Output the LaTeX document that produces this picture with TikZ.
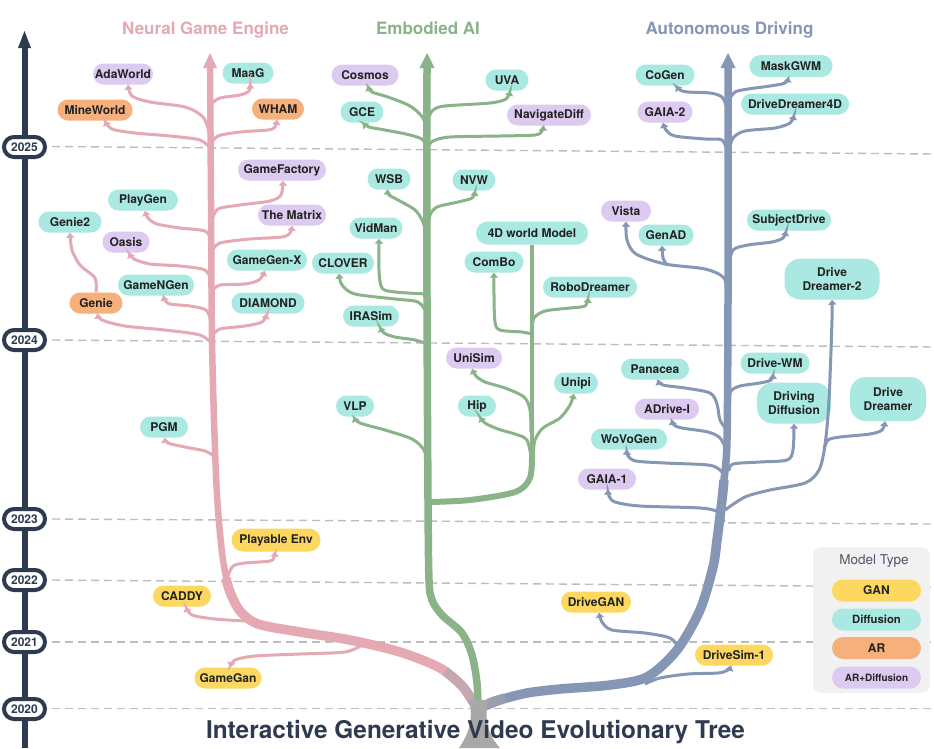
\documentclass[tikz,border=0pt]{standalone}
\usepackage{fontspec}
\setmainfont{TeX Gyre Heros}
\usetikzlibrary{arrows.meta,shapes.misc}
\definecolor{pinkc}{HTML}{E4A9B3}
\definecolor{greenc}{HTML}{8AB38A}
\definecolor{bluec}{HTML}{8597B4}
\definecolor{navyc}{HTML}{2E3A4F}
\definecolor{ganc}{HTML}{FDD860}
\definecolor{difc}{HTML}{A9E9E1}
\definecolor{arcol}{HTML}{F5B07C}
\definecolor{ardc}{HTML}{DDCAF1}
\definecolor{dashc}{HTML}{BDBDBD}
\definecolor{basec}{HTML}{A8A8A8}
\definecolor{legc}{HTML}{F1F1F1}
\definecolor{txtc}{HTML}{222222}
\begin{document}
\begin{tikzpicture}[x=1pt,y=-1pt,
  nd/.style={rounded rectangle, minimum height=21pt, inner sep=0pt, text=txtc, font=\bfseries\fontsize{12}{14.7}\selectfont},
  gan/.style={nd, fill=ganc}, dif/.style={nd, fill=difc}, arm/.style={nd, fill=arcol}, ard/.style={nd, fill=ardc},
  big/.style={rectangle, rounded corners=16pt, minimum height=41pt, align=center},
  yr/.style={rounded rectangle, draw=navyc, line width=4pt, fill=white, minimum width=41pt, minimum height=20pt, inner sep=0pt, font=\bfseries\fontsize{12}{14}\selectfont, text=navyc},
  yline/.style={dashc, line width=1.4pt, dash pattern=on 8pt off 5pt},
  tip/.style={-{Triangle[length=5pt,width=8pt]}},
  pbr/.style={pinkc, line width=3pt, tip},
  gbr/.style={greenc, line width=3pt, tip},
  bbr/.style={bluec, line width=3pt, tip},
  cat/.style={anchor=base, font=\bfseries\fontsize{17}{20}\selectfont},
  lg/.style={nd, minimum width=89pt, minimum height=22pt}
]
\useasboundingbox (0,0) rectangle (934,748);
\fill[white] (0,0) rectangle (934,748);

% year dashed lines
\draw[yline] (52,146.5) -- (934,154);
\draw[yline] (52,340) -- (934,347);
\draw[yline] (52,519) -- (934,524);
\draw[yline] (52,580) -- (934,587);
\draw[yline] (52,642) -- (934,642);
\draw[yline] (52,708.5) -- (934,708.5);

% time axis
\draw[navyc, line width=6pt] (24.5,46) -- (24.5,748);
\fill[navyc] (24.5,31) -- (31,48) -- (18,48) -- cycle;
\node[yr] (y2025) at (24.5,147) {2025};
\node[yr] (y2024) at (24.5,340) {2024};
\node[yr] (y2023) at (24.5,519) {2023};
\node[yr] (y2022) at (24.5,580) {2022};
\node[yr] (y2021) at (24.5,642) {2021};
\node[yr] (y2020) at (24.5,709) {2020};

% category titles
\node[cat, text=pinkc] (catA) at (205.5,34) {Neural Game Engine};
\node[cat, text=greenc] (catB) at (428,34) {Embodied AI};
\node[cat, text=bluec] (catC) at (729.5,34) {Autonomous Driving};

% ---------- trunks ----------
\draw[pinkc, line width=6.5pt] plot[smooth, tension=0.5] coordinates {(210,66) (211,200) (212,340) (215,450) (218,510) (223,560) (230,592) (240,611) (258,624) (300,632) (350,640) (400,652) (440,668) (463,687) (478,710)};
\draw[pinkc, line width=9.5pt] plot[smooth, tension=0.5] coordinates {(226,578) (230,592) (240,611) (258,624) (300,632) (350,640) (400,652) (440,668) (463,687) (478,710)};
\draw[pinkc!45!basec, line width=9.5pt] plot[smooth, tension=0.5] coordinates {(445,671) (463,687) (478,710)};
\fill[pinkc] (210,53) -- (217,68) -- (203,68) -- cycle;

\draw[greenc, line width=7.5pt] plot[smooth, tension=0.5] coordinates {(427,66) (427,300) (428,500) (429,580) (432,600) (442,615) (462,633) (472,655) (477,683) (478,712)};
\fill[greenc] (427,53) -- (434.5,68) -- (419.5,68) -- cycle;

\draw[bluec, line width=7.5pt] plot[smooth, tension=0.5] coordinates {(728,66) (728,300) (727,440) (724,480) (722,500) (717,540)};
\draw[bluec, line width=9.5pt] plot[smooth, tension=0.5] coordinates {(724,480) (722,500) (717,540) (713,567) (700,610) (677,650) (647,677) (610,685) (560,689) (527,693) (500,700) (480,708)};
\draw[bluec!45!basec, line width=9.5pt] plot[smooth, tension=0.5] coordinates {(505,698) (492,702) (480,708)};
\fill[bluec] (728,53) -- (735.5,68) -- (720.5,68) -- cycle;

% base
\fill[basec] (469,700) .. controls (474,720) and (468,735) .. (459,748) -- (500,748) .. controls (488,735) and (484,720) .. (488,700) -- cycle;

% ---------- nodes: Neural Game Engine ----------
\node[ard, minimum width=60pt] (AdaWorld) at (123,74) {AdaWorld};
\node[dif, minimum width=51pt] (MaaG) at (248,73) {MaaG};
\node[arm, minimum width=75pt] (MineWorld) at (95,110) {MineWorld};
\node[arm, minimum width=52pt] (WHAM) at (278,109) {WHAM};
\node[ard, minimum width=88pt] (GameFactory) at (282,170) {GameFactory};
\node[dif, minimum width=70pt] (PlayGen) at (143,200) {PlayGen};
\node[ard, minimum width=68pt] (TheMatrix) at (292,215) {The Matrix};
\node[dif, minimum width=63pt] (Genie2) at (70,222) {Genie2};
\node[ard, minimum width=47pt] (Oasis) at (126,242) {Oasis};
\node[dif, minimum width=80pt] (GameGenX) at (267,260) {GameGen-X};
\node[dif, minimum width=76pt] (GameNGen) at (156,285) {GameNGen};
\node[arm, minimum width=53pt] (Genie) at (96,303) {Genie};
\node[dif, minimum width=73pt] (DIAMOND) at (268,303) {DIAMOND};
\node[dif, minimum width=48pt] (PGM) at (164,427) {PGM};
\node[gan, minimum width=89pt, minimum height=23pt] (PlayableEnv) at (276,540) {Playable Env};
\node[gan, minimum width=58pt] (CADDY) at (182,596) {CADDY};
\node[gan, minimum width=67pt] (GameGan) at (228,678) {GameGan};

% ---------- nodes: Embodied AI ----------
\node[ard, minimum width=67pt] (Cosmos) at (365,75) {Cosmos};
\node[dif, minimum width=43pt] (UVA) at (507,80) {UVA};
\node[dif, minimum width=43pt] (GCE) at (362,112) {GCE};
\node[ard, minimum width=84pt] (NavigateDiff) at (549,115) {NavigateDiff};
\node[dif, minimum width=43pt] (WSB) at (389,179) {WSB};
\node[dif, minimum width=43pt] (NVW) at (474,180) {NVW};
\node[dif, minimum width=53pt] (VidMan) at (376,228) {VidMan};
\node[dif, minimum width=112pt, minimum height=23pt] (FourD) at (532,233) {4D world Model};
\node[dif, minimum width=62pt] (CLOVER) at (343,263) {CLOVER};
\node[dif, minimum width=59pt] (ComBo) at (494,262) {ComBo};
\node[dif, minimum width=94pt] (RoboDreamer) at (590,287) {RoboDreamer};
\node[dif, minimum width=56pt] (IRASim) at (371,316) {IRASim};
\node[ard, minimum width=56pt] (UniSim) at (474,358) {UniSim};
\node[dif, minimum width=44pt] (Unipi) at (576,383) {Unipi};
\node[dif, minimum width=38pt] (VLP) at (355,406) {VLP};
\node[dif, minimum width=38pt] (Hip) at (477,406) {Hip};

% ---------- nodes: Autonomous Driving ----------
\node[dif, minimum width=59pt] (CoGen) at (665,75) {CoGen};
\node[dif, minimum width=83pt, minimum height=22pt] (MaskGWM) at (791,66) {MaskGWM};
\node[ard, minimum width=55pt] (GAIA2) at (665,112) {GAIA-2};
\node[dif, minimum width=108pt] (DDFourD) at (795,104) {DriveDreamer4D};
\node[ard, minimum width=50pt] (Vista) at (626,211) {Vista};
\node[dif, minimum width=55pt] (GenAD) at (666,235) {GenAD};
\node[dif, minimum width=84pt] (SubjectDrive) at (789,220) {SubjectDrive};
\node[dif, big, minimum width=95pt] (DDTwo) at (832,279) {Drive\\Dreamer-2};
\node[dif, minimum width=68pt] (Panacea) at (655,369) {Panacea};
\node[dif, minimum width=69pt] (DriveWM) at (775,363) {Drive-WM};
\node[ard, minimum width=64pt] (ADriveI) at (667,409) {ADrive-I};
\node[dif, big, minimum width=74pt] (DrivDiff) at (794,403) {Driving\\Diffusion};
\node[dif, big, minimum width=76pt, minimum height=44pt] (DriveDreamer) at (888,399) {Drive\\Dreamer};
\node[dif, minimum width=76pt] (WoVoGen) at (629,439) {WoVoGen};
\node[ard, minimum width=58pt] (GAIAone) at (607,479) {GAIA-1};
\node[gan, minimum width=70pt] (DriveGAN) at (596,602) {DriveGAN};
\node[gan, minimum width=78pt] (DriveSim) at (734,655) {DriveSim-1};

% ---------- branch roots ----------
\coordinate (pAda) at (210,135);
\coordinate (pMine) at (211,149);
\coordinate (pMaaG) at (211,104);
\coordinate (pWHAM) at (211,144);
\coordinate (pGF) at (212,220);
\coordinate (pPG) at (211,240);
\coordinate (pTM) at (212,251);
\coordinate (pOa) at (211,281);
\coordinate (pGX) at (212,291);
\coordinate (pGN) at (211,321);
\coordinate (pDI) at (212,336);
\coordinate (pGe) at (212,344);
\coordinate (pPGM) at (214,456);
\coordinate (pPE) at (228,576);
\coordinate (pCA) at (246,621);
\coordinate (pGG) at (362,645);

\coordinate (gCos) at (427,135);
\coordinate (gGCE) at (427,151);
\coordinate (gUVA) at (428,119);
\coordinate (gND) at (428,147);
\coordinate (gWSB) at (427,238);
\coordinate (gNVW) at (428,226);
\coordinate (gVM) at (427,294);
\coordinate (gCL) at (427,313);
\coordinate (gIR) at (427,344);
\coordinate (gVLP) at (427,463);
\coordinate (gBase) at (430,502);
\coordinate (gTop) at (532,452);
\coordinate (gCB) at (532,334);
\coordinate (gRD) at (532,330);
\coordinate (gUS) at (531,432);
\coordinate (gHip) at (531,456);
\coordinate (gUp) at (533,456);

\coordinate (bCG) at (727,108);
\coordinate (bMG) at (729,100);
\coordinate (bG2) at (727,151);
\coordinate (bDD4) at (729,151);
\coordinate (bVi) at (727,296);
\coordinate (bGA) at (667,265);
\coordinate (bSD) at (729,266);
\coordinate (bPa) at (727,430);
\coordinate (bDW) at (729,401);
\coordinate (bAD) at (727,451);
\coordinate (bDD) at (729,471);
\coordinate (bWo) at (727,479);
\coordinate (bGone) at (724,522);
\coordinate (bDDTwo) at (725,510);
\coordinate (bDr) at (824,449);
\coordinate (bGAN) at (679,648);
\coordinate (bSim) at (645,684);

% ---------- pink branches ----------
\draw[pbr] plot[smooth] coordinates {(pAda) (203,117) (185,107) (150,102) (132,96) ([xshift=5pt]AdaWorld.south)};
\draw[pbr] plot[smooth] coordinates {(pMine) (200,140) (170,136) (135,133) (112,129) ([xshift=10pt]MineWorld.south)};
\draw[pbr] plot[smooth] coordinates {(pMaaG) (220,98) (240,95) (249,91) ([xshift=2pt]MaaG.south)};
\draw[pbr] plot[smooth] coordinates {(pWHAM) (218,136) (240,132) (268,130) (275,127) ([xshift=-1pt]WHAM.south)};
\draw[pbr] plot[smooth] coordinates {(pGF) (218,209) (240,205) (270,201) (281,195) ([xshift=1pt]GameFactory.south)};
\draw[pbr] plot[smooth] coordinates {(pPG) (205,231) (180,228) (157,224) (148,218) ([xshift=2pt]PlayGen.south)};
\draw[pbr] plot[smooth] coordinates {(pTM) (220,243) (250,239) (282,237) (290,233) (TheMatrix.south)};
\draw[pbr] plot[smooth] coordinates {(pOa) (205,270) (180,266) (150,264) (134,259) ([xshift=3pt]Oasis.south)};
\draw[pbr] plot[smooth] coordinates {(pGX) (220,285) (245,284) (259,280) ([xshift=-2pt]GameGenX.south)};
\draw[pbr] plot[smooth] coordinates {(pGN) (206,310) (190,306) (170,304) (165,300) ([xshift=7pt]GameNGen.south)};
\draw[pbr] plot[smooth] coordinates {(pDI) (220,329) (245,326) (262,322) ([xshift=-1pt]DIAMOND.south)};
\draw[pbr] plot[smooth] coordinates {(pGe) (200,335) (165,330) (125,326) (102,320) ([xshift=2pt]Genie.south)};
\draw[pbr] plot[smooth] coordinates {(Genie.north) (95,278) (80,265) (72,250) (Genie2.south)};
\draw[pbr] plot[smooth] coordinates {(pPGM) (205,451) (185,447) (168,443) ([xshift=1pt]PGM.south)};
\draw[pbr] plot[smooth] coordinates {(pPE) (233,566) (245,563) (270,561) (274,557) ([xshift=-1pt]PlayableEnv.south)};
\draw[pbr] plot[smooth] coordinates {(pCA) (215,619) (192,615) ([xshift=4pt]CADDY.south)};
\draw[pbr] plot[smooth] coordinates {(pGG) (345,652) (300,654) (255,656) (235,660) ([xshift=2pt]GameGan.north)};

% ---------- green branches ----------
\draw[gbr] plot[smooth] coordinates {(gCos) (423,118) (410,106) (388,97) (372,92) ([xshift=3pt]Cosmos.south)};
\draw[gbr] plot[smooth] coordinates {(gGCE) (423,140) (410,135) (385,130) (369,127) ([xshift=1pt]GCE.south)};
\draw[gbr] plot[smooth] coordinates {(gUVA) (433,110) (445,106) (490,103) (506,99) ([xshift=3pt]UVA.south)};
\draw[gbr] plot[smooth] coordinates {(gND) (433,141) (450,137) (500,136) (535,135) (542,131) ([xshift=-6pt]NavigateDiff.south)};
\draw[gbr] plot[smooth] coordinates {(gWSB) (423,222) (415,210) (398,200) (389,195) ([xshift=-1pt]WSB.south)};
\draw[gbr] plot[smooth] coordinates {(gNVW) (430,215) (437,207) (458,202) (472,198) ([xshift=1pt]NVW.south)};
\draw[gbr] plot[smooth] coordinates {(gVM) (395,292) (382,288) (379,270) ([xshift=3pt]VidMan.south)};
\draw[gbr] plot[smooth] coordinates {(gCL) (418,302) (395,299) (355,294) (342,285) ([xshift=-4pt]CLOVER.south)};
\draw[gbr] plot[smooth] coordinates {(gIR) (415,340) (395,337) (384,333) ([xshift=9pt]IRASim.south)};
\draw[gbr] plot[smooth] coordinates {(gVLP) (424,450) (412,439) (385,430) (360,423) ([xshift=-1pt]VLP.south)};
\draw[greenc, line width=3.5pt] (FourD.south) -- (gTop);
\draw[greenc, line width=6pt] plot[smooth] coordinates {(gBase) (470,500) (515,492) (530,478) (gTop)};
\draw[gbr] plot[smooth] coordinates {(gCB) (522,332) (500,330) (495,322) (494,295) (ComBo.south)};
\draw[gbr] plot[smooth] coordinates {(gRD) (534,318) (545,311) (570,308) (585,306) ([xshift=-2pt]RoboDreamer.south)};
\draw[gbr] plot[smooth] coordinates {(gUS) (530,410) (524,397) (505,388) (485,382) (476,376) ([xshift=-2pt]UniSim.south)};
\draw[gbr] plot[smooth] coordinates {(gHip) (527,440) (518,435) (498,429) (485,423) ([xshift=3pt]Hip.south)};
\draw[gbr] plot[smooth] coordinates {(gUp) (535,440) (543,428) (560,418) (570,405) ([xshift=-2pt]Unipi.south)};

% ---------- blue branches ----------
\draw[bbr] plot[smooth] coordinates {(bCG) (722,97) (710,93) (688,92) (680,90) ([xshift=11pt]CoGen.south)};
\draw[bbr] plot[smooth] coordinates {(bMG) (735,92) (748,89) (770,86) (785,83) ([xshift=-3pt]MaskGWM.south)};
\draw[bbr] plot[smooth] coordinates {(bG2) (722,140) (705,139) (675,136) (666,130) ([xshift=-2pt]GAIA2.south)};
\draw[bbr] plot[smooth] coordinates {(bDD4) (733,138) (745,131) (775,128) (790,123) ([xshift=-1pt]DDFourD.south)};
\draw[bbr] plot[smooth] coordinates {(bVi) (724,278) (705,269) (665,264) (636,254) (627,240) (Vista.south)};
\draw[bbr] plot[smooth] coordinates {(bGA) (663,258) ([xshift=-4pt]GenAD.south)};
\draw[bbr] plot[smooth] coordinates {(bSD) (733,250) (748,245) (772,242) (783,238) ([xshift=-3pt]SubjectDrive.south)};
\draw[bbr] plot[smooth] coordinates {(bPa) (720,420) (717,404) (710,393) (685,388) (663,385) ([xshift=3pt]Panacea.south)};
\draw[bbr] plot[smooth] coordinates {(bDW) (731,391) (740,386) (760,383) (771,380) ([xshift=-2pt]DriveWM.south)};
\draw[bbr] plot[smooth] coordinates {(bAD) (720,438) (708,432) (682,428) (674,425) ([xshift=5pt]ADriveI.south)};
\draw[bbr] plot[smooth] coordinates {(bDD) (733,464) (760,462) (787,460) (793,450) (DrivDiff.south)};
\draw[bbr] plot[smooth] coordinates {(bWo) (720,470) (708,465) (665,463) (636,461) (628,456) ([xshift=-2pt]WoVoGen.south)};
\draw[bbr] plot[smooth] coordinates {(bGone) (718,512) (700,508) (640,506) (615,502) (609,496) ([xshift=1pt]GAIAone.south)};
\draw[bbr] plot[smooth] coordinates {(bDDTwo) (745,497) (770,490) (805,483) (819,470) (825,445) (829,400) (832,320) (DDTwo.south)};
\draw[bbr] plot[smooth] coordinates {(bDr) (828,440) (840,437) (870,434) (882,430) ([xshift=-3pt]DriveDreamer.south)};
\draw[bbr] plot[smooth] coordinates {(bGAN) (670,638) (645,633) (612,630) (602,622) ([xshift=3pt]DriveGAN.south)};
\draw[bbr] plot[smooth] coordinates {(bSim) (660,678) (688,674) (718,673) (728,670) ([xshift=-3pt]DriveSim.south)};

% ---------- legend ----------
\fill[legc, rounded corners=9pt] (813,547) rectangle (930,693);
\node[font=\fontsize{13.5}{16}\selectfont, text=navyc!85!white] (legT) at (874,561) {Model Type};
\node[lg, fill=ganc] (lGAN) at (876.5,590.5) {GAN};
\node[lg, fill=difc, font=\bfseries\fontsize{11.3}{13}\selectfont] (lDif) at (876.5,619.5) {Diffusion};
\node[lg, fill=arcol] (lAR) at (876.5,648) {AR};
\node[lg, fill=ardc, font=\bfseries\fontsize{10}{12}\selectfont] (lARD) at (876.5,677.5) {AR+Diffusion};

% title
\node[anchor=base, font=\bfseries\fontsize{24.4}{28}\selectfont, text=navyc] (title) at (475.5,738) {Interactive Generative Video Evolutionary Tree};
\end{tikzpicture}
\end{document}
